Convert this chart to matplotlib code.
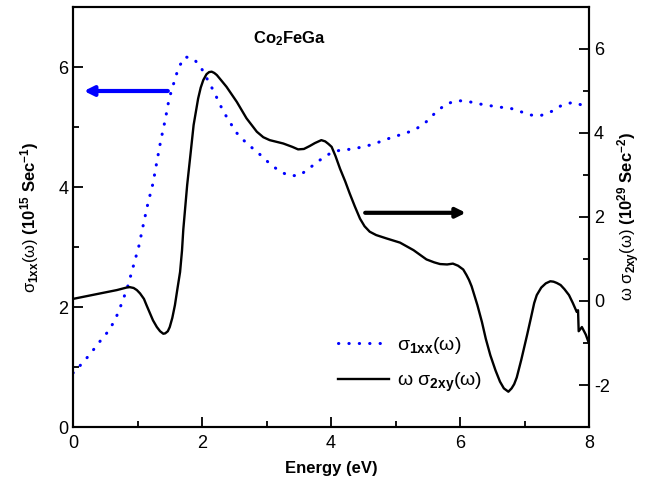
import numpy as np
import matplotlib
matplotlib.use("Agg")
import matplotlib.pyplot as plt

plt.rcParams['font.family'] = ['Liberation Sans', 'DejaVu Sans']
plt.rcParams['mathtext.fontset'] = 'custom'
plt.rcParams['mathtext.rm'] = 'Liberation Sans'
plt.rcParams['mathtext.bf'] = 'Liberation Sans:bold'
plt.rcParams['mathtext.it'] = 'Liberation Sans:italic'
plt.rcParams['mathtext.default'] = 'regular'
plt.rcParams['axes.unicode_minus'] = False

# sigma_1xx (left axis, 10^15 Sec^-1) - dotted blue
e_s1 = [0.0, 0.16, 0.29, 0.42, 0.55, 0.65, 0.72, 0.84, 0.93, 1.02, 1.09, 1.16, 1.24,
        1.30, 1.36, 1.43, 1.49, 1.54, 1.59, 1.64, 1.74, 1.88, 2.00, 2.09, 2.18, 2.33,
        2.53, 2.69, 2.87, 3.02, 3.18, 3.34, 3.51, 3.66, 3.83, 4.00, 4.16, 4.33, 4.49,
        4.65, 4.82, 4.98, 5.14, 5.31, 5.47, 5.62, 5.78, 5.95, 6.11, 6.27, 6.44, 6.61,
        6.76, 6.93, 7.09, 7.25, 7.42, 7.59, 7.75, 7.91, 8.0]
s1xx = [0.90, 1.08, 1.25, 1.43, 1.60, 1.78, 1.96, 2.31, 2.66, 3.01, 3.37, 3.72, 4.06,
        4.42, 4.77, 5.12, 5.47, 5.65, 5.83, 6.00, 6.17, 6.13, 5.96, 5.78, 5.60, 5.26,
        4.91, 4.73, 4.57, 4.42, 4.28, 4.19, 4.19, 4.31, 4.45, 4.57, 4.62, 4.63, 4.67,
        4.71, 4.78, 4.84, 4.89, 4.96, 5.08, 5.24, 5.38, 5.44, 5.43, 5.39, 5.36, 5.33,
        5.32, 5.26, 5.20, 5.19, 5.26, 5.37, 5.41, 5.36, 5.33]

# omega*sigma_2xy (right axis, 10^29 Sec^-2) - solid black
e_s2 = [0.0, 0.42, 0.68, 0.83, 0.88, 0.94, 0.99, 1.04, 1.10, 1.14, 1.19, 1.24, 1.30,
        1.35, 1.40, 1.43, 1.47, 1.50, 1.54, 1.58, 1.62, 1.66, 1.69, 1.71, 1.77, 1.82,
        1.87, 1.94, 1.98, 2.02, 2.07, 2.11, 2.15, 2.19, 2.23, 2.30, 2.38, 2.54, 2.69,
        2.85, 2.95, 3.05, 3.26, 3.40, 3.49, 3.58, 3.67, 3.75, 3.85, 3.91, 3.96, 4.01,
        4.07, 4.14, 4.22, 4.29, 4.37, 4.45, 4.52, 4.60, 4.70, 4.86, 5.07, 5.28, 5.48,
        5.60, 5.69, 5.80, 5.89, 5.97, 6.05, 6.10, 6.14, 6.18, 6.21, 6.27, 6.34, 6.40,
        6.47, 6.55, 6.62, 6.68, 6.75, 6.80, 6.84, 6.88, 6.95, 7.04, 7.10, 7.15, 7.19,
        7.26, 7.33, 7.40, 7.45, 7.50, 7.56, 7.62, 7.69, 7.75, 7.81, 7.83, 7.84, 7.89,
        7.95, 8.0]
ws2xy = [0.05, 0.18, 0.26, 0.32, 0.33, 0.31, 0.26, 0.18, 0.05, -0.10, -0.28, -0.46, -0.62,
         -0.72, -0.78, -0.77, -0.72, -0.62, -0.40, -0.10, 0.30, 0.69, 1.20, 1.70, 2.76, 3.47,
         4.19, 4.82, 5.08, 5.26, 5.40, 5.45, 5.46, 5.43, 5.38, 5.25, 5.10, 4.74, 4.35,
         4.03, 3.90, 3.83, 3.75, 3.67, 3.61, 3.62, 3.69, 3.76, 3.83, 3.80, 3.74, 3.67,
         3.45, 3.15, 2.85, 2.56, 2.25, 1.96, 1.78, 1.65, 1.57, 1.49, 1.39, 1.21, 0.99,
         0.92, 0.88, 0.87, 0.89, 0.84, 0.75, 0.62, 0.50, 0.35, 0.20, -0.10, -0.50, -0.90,
         -1.29, -1.65, -1.92, -2.08, -2.16, -2.08, -1.98, -1.82, -1.40, -0.81, -0.40, -0.05, 0.14,
         0.32, 0.42, 0.47, 0.46, 0.43, 0.38, 0.28, 0.14, -0.05, -0.26, -0.22, -0.72, -0.62,
         -0.80, -1.01]

fig = plt.figure(figsize=(6.59, 4.88), dpi=100)
ax = fig.add_axes([73/659, 61/488, 516/659, 420/488])
ax2 = ax.twinx()

l1, = ax.plot(e_s1, s1xx, color='#0000ff', lw=2.2, linestyle=(0, (0.1, 3.3)),
              dash_capstyle='round')
l2, = ax2.plot(e_s2, ws2xy, color='black', lw=1.7)

ax.set_xlim(0, 8)
ax.set_ylim(0, 7)
ax2.set_ylim(-3, 7)
ax.set_xticks([0, 2, 4, 6, 8])
ax.set_xticks([1, 3, 5, 7], minor=True)
ax.set_yticks([0, 2, 4, 6])
ax.set_yticks([1, 3, 5], minor=True)
ax2.set_yticks([-2, 0, 2, 4, 6])
ax2.set_yticks([-3, -1, 1, 3, 5], minor=True)

for a in (ax, ax2):
    a.tick_params(which='major', direction='in', length=7, width=1.3, labelsize=13)
    a.tick_params(which='minor', direction='in', length=4, width=1.3)
    for s in a.spines.values():
        s.set_linewidth(1.5)
ax.tick_params(axis='x', pad=6)

ax.set_xlabel('Energy (eV)', fontsize=12, fontweight='bold', labelpad=6)
ax.set_ylabel(r'$\sigma_{\mathbf{1xx}}(\omega)\ \mathbf{(10^{15}\ Sec^{-1})}$',
              fontsize=12, labelpad=12)
ax2.set_ylabel(r'$\omega\ \sigma_{\mathbf{2xy}}(\omega)\ \mathbf{(10^{29}\ Sec^{-2})}$',
               fontsize=12, labelpad=4)

ax.text(3.36, 6.48, r'Co$_{\mathbf{2}}$FeGa', fontsize=12, fontweight='bold',
        ha='center', va='center')

ax.annotate('', xy=(0.17, 5.6), xytext=(1.47, 5.6),
            arrowprops=dict(arrowstyle='-|>', color='#0000ff', lw=3,
                            mutation_scale=14, shrinkA=0, shrinkB=0))
ax.annotate('', xy=(6.09, 3.57), xytext=(4.53, 3.57),
            arrowprops=dict(arrowstyle='-|>', color='black', lw=3,
                            mutation_scale=14, shrinkA=0, shrinkB=0))

ax2.legend([l1, l2], [r'$\sigma_{\mathbf{1xx}}(\omega)$', r'$\omega\ \sigma_{\mathbf{2xy}}(\omega)$'],
           loc='upper left', bbox_to_anchor=(0.48, 0.26), frameon=False,
           fontsize=14, handlelength=2.6, handletextpad=0.4, labelspacing=0.75)

fig.savefig('out.png', dpi=100)
